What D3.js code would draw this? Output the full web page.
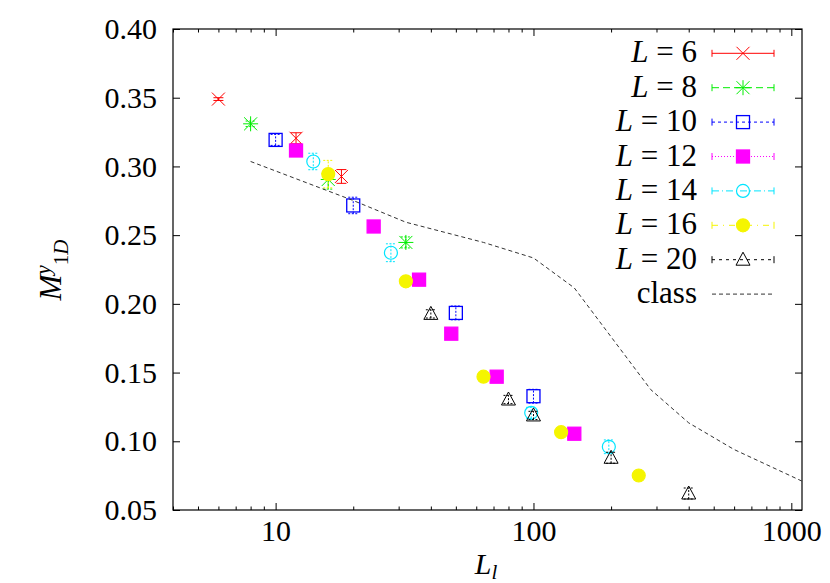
<!DOCTYPE html>
<html>
<head>
<meta charset="utf-8">
<script src="https://cdnjs.cloudflare.com/ajax/libs/d3/7.8.5/d3.min.js"></script>
<style>
  body { margin: 0; background: #fff; }
</style>
</head>
<body>
<div id="container"></div>
<script>
// data: [L_l, M, error]
const L6  = [[6, 0.349, 0.001], [12, 0.3205, 0.004], [18, 0.2927, 0.005]]
const L8  = [[8, 0.331, 0.002], [16, 0.2905, 0.007], [32, 0.2447, 0.004]]
const L10 = [[10, 0.3193, 0.004], [20, 0.2716, 0.006], [50, 0.1934, 0.005], [100, 0.1328, 0.005]]
const L12 = [[12, 0.3116, 0.002], [24, 0.2563, 0.002], [36, 0.2176, 0.002], [48, 0.1783, 0.002], [72, 0.147, 0.002], [144, 0.1055, 0.002]]
const L14 = [[14, 0.3036, 0.006], [28, 0.2372, 0.0065], [98, 0.1207, 0.004], [196, 0.096, 0.005]]
const L16 = [[16, 0.2944, 0.01], [32, 0.2164, 0.003], [64, 0.147, 0.002], [128, 0.1066, 0.002], [256, 0.0751, 0.002]]
const L20 = [[40, 0.1927, 0.003], [80, 0.1304, 0.003], [100, 0.1188, 0.003], [200, 0.088, 0.004], [400, 0.062, 0.004]]
const classLine = [[8, 0.3036], [20, 0.2752], [32, 0.2594], [64, 0.2447], [100, 0.2334], [144, 0.2116], [285, 0.1376], [400, 0.1134], [600, 0.094], [1100, 0.071]]

const legendNames = ['6', '8', '10', '12', '14', '16', '20']
const xMajor = [10, 100, 1000]
const xMinor = [4, 5, 6, 7, 8, 9, 20, 30, 40, 50, 60, 70, 80, 90, 200, 300, 400, 500, 600, 700, 800, 900]
const yTicks = [0.05, 0.10, 0.15, 0.20, 0.25, 0.30, 0.35, 0.40]

const series = [
  { name: legendNames[0], data: L6,  color: '#ff0000', sym: 'x',    dash: null },
  { name: legendNames[1], data: L8,  color: '#00ee00', sym: 'star', dash: '7,4' },
  { name: legendNames[2], data: L10, color: '#0000ff', sym: 'sq',   dash: '3,3' },
  { name: legendNames[3], data: L12, color: '#ff00ff', sym: 'fsq',  dash: '1,2' },
  { name: legendNames[4], data: L14, color: '#00e5ff', sym: 'ci',   dash: '7,3,1,3' },
  { name: legendNames[5], data: L16, color: '#f5f500', sym: 'fci',  dash: '6,5,1,5' },
  { name: legendNames[6], data: L20, color: '#000000', sym: 'tri',  dash: '3,4' }
]

var FONT = '"Liberation Serif", "Times New Roman", Times, "DejaVu Serif", serif'
var W = 830, H = 583
var x = d3.scaleLog().domain([4, 1100]).range([173, 802])
var y = d3.scaleLinear().domain([0.05, 0.40]).range([510, 29])

var svg = d3.select('#container').append('svg')
            .attr('width', W).attr('height', H)
            .attr('font-family', FONT)

// axes (ticks inward, mirrored)
function styleAxis(g){
  g.attr('font-family', FONT)
  g.select('.domain').remove()
  g.selectAll('.tick line').attr('stroke', '#000').attr('stroke-width', 1)
  g.selectAll('.tick text').attr('font-size', '30px').attr('fill', '#000').attr('font-family', FONT)
}
svg.append('g').attr('transform', 'translate(0,510)')
   .call(d3.axisBottom(x).tickValues(xMajor).tickSize(-7).tickPadding(11).tickFormat(d3.format('d')))
   .call(styleAxis)
svg.append('g').attr('transform', 'translate(0,510)')
   .call(d3.axisBottom(x).tickValues(xMinor).tickSize(-3.5).tickFormat(''))
   .call(styleAxis)
svg.append('g').attr('transform', 'translate(0,29)')
   .call(d3.axisTop(x).tickValues(xMajor).tickSize(-7).tickFormat(''))
   .call(styleAxis)
svg.append('g').attr('transform', 'translate(0,29)')
   .call(d3.axisTop(x).tickValues(xMinor).tickSize(-3.5).tickFormat(''))
   .call(styleAxis)
svg.append('g').attr('transform', 'translate(173,0)')
   .call(d3.axisLeft(y).tickValues(yTicks).tickSize(-7).tickPadding(16).tickFormat(d3.format('.2f')))
   .call(styleAxis)
svg.append('g').attr('transform', 'translate(802,0)')
   .call(d3.axisRight(y).tickValues(yTicks).tickSize(-7).tickFormat(''))
   .call(styleAxis)
svg.selectAll('.tick text').attr('dy', function(){ return d3.select(this).attr('dy') == '0.71em' ? '0.68em' : '0.32em' })

svg.append('rect').attr('x', 173).attr('y', 29).attr('width', 629).attr('height', 481)
   .attr('fill', 'none').attr('stroke', '#000').attr('stroke-width', 1.2)

// axis labels
var yl = svg.append('text').attr('transform', 'translate(61,270) rotate(-90)')
            .attr('text-anchor', 'middle').attr('font-size', '31px')
yl.append('tspan').attr('font-style', 'italic').text('M')
yl.append('tspan').attr('font-style', 'italic').attr('font-size', '21px').attr('dy', -11).text('y')
yl.append('tspan').attr('font-size', '21px').attr('dy', 18).text('1')
yl.append('tspan').attr('font-style', 'italic').attr('font-size', '21px').text('D')

var xl = svg.append('text').attr('x', 486).attr('y', 574)
            .attr('text-anchor', 'middle').attr('font-size', '30px')
xl.append('tspan').attr('font-style', 'italic').text('L')
xl.append('tspan').attr('font-style', 'italic').attr('font-size', '21px').attr('dy', 5).text('l')

// symbols
function drawSymbol(g, sym, color, cx, cy){
  var s = 6.5
  if(sym == 'x' || sym == 'star'){
    g.append('path').attr('d', `M${cx-s},${cy-s}L${cx+s},${cy+s}M${cx-s},${cy+s}L${cx+s},${cy-s}`)
     .attr('stroke', color).attr('fill', 'none')
    if(sym == 'star'){
      g.append('path').attr('d', `M${cx-s-1},${cy}L${cx+s+1},${cy}M${cx},${cy-s-1}L${cx},${cy+s+1}`)
       .attr('stroke', color).attr('fill', 'none')
    }
  } else if(sym == 'sq' || sym == 'fsq'){
    g.append('rect').attr('x', cx-s).attr('y', cy-s).attr('width', 2*s).attr('height', 2*s)
     .attr('stroke', color).attr('stroke-width', 1.3)
     .attr('fill', sym == 'fsq' ? color : 'none')
  } else if(sym == 'ci' || sym == 'fci'){
    g.append('circle').attr('cx', cx).attr('cy', cy).attr('r', s)
     .attr('stroke', color).attr('stroke-width', 1.2)
     .attr('fill', sym == 'fci' ? color : 'none')
  } else if(sym == 'tri'){
    g.append('path').attr('d', `M${cx},${cy-s-1}L${cx+s+0.5},${cy+s-1}L${cx-s-0.5},${cy+s-1}Z`)
     .attr('stroke', color).attr('fill', 'none')
  }
}

// data points with error bars
series.forEach(function(S){
  var g = svg.append('g')
  g.selectAll('path.err')
   .data(S.data)
   .enter()
   .append('path')
   .attr('class', 'err')
   .attr('d', function(d){
      var px = x(d[0]), y0 = y(d[1] - d[2]), y1 = y(d[1] + d[2])
      return `M${px},${y0}L${px},${y1}M${px-5},${y0}L${px+5},${y0}M${px-5},${y1}L${px+5},${y1}`
   })
   .attr('stroke', S.color).attr('fill', 'none').attr('stroke-width', 1)
   .attr('stroke-dasharray', S.dash ? '2,1.5' : null)
  S.data.forEach(function(d){ drawSymbol(g, S.sym, S.color, x(d[0]), y(d[1])) })
})

// class curve
var linePath = d3.line().x(function(d){ return x(d[0]) }).y(function(d){ return y(d[1]) })
svg.append('path').attr('d', linePath(classLine))
   .attr('fill', 'none').attr('stroke', '#333').attr('stroke-width', 1)
   .attr('stroke-dasharray', '4,3')

// legend
var leg = svg.append('g')
series.forEach(function(S, i){
  var cy = 53.3 + i * 34.4
  var t = leg.append('text').attr('x', 697).attr('y', cy + 9).attr('text-anchor', 'end')
             .attr('font-size', '31px').attr('xml:space', 'preserve')
  t.append('tspan').attr('font-style', 'italic').text('L')
  t.append('tspan').text(' = ' + S.name)
  leg.append('path')
     .attr('d', `M712,${cy}L774,${cy}`)
     .attr('stroke', S.color).attr('fill', 'none').attr('stroke-dasharray', S.dash)
  leg.append('path')
     .attr('d', `M712,${cy-3.5}L712,${cy+3.5}M774,${cy-3.5}L774,${cy+3.5}`)
     .attr('stroke', S.color).attr('fill', 'none')
  drawSymbol(leg, S.sym, S.color, 743, cy)
})
var cyc = 53.3 + 7 * 34.4
leg.append('text').attr('x', 697).attr('y', cyc + 9).attr('text-anchor', 'end').attr('font-size', '31px').text('class')
leg.append('path').attr('d', `M712,${cyc}L774,${cyc}`)
   .attr('stroke', '#333').attr('fill', 'none').attr('stroke-dasharray', '4,3')
</script>
</body>
</html>
